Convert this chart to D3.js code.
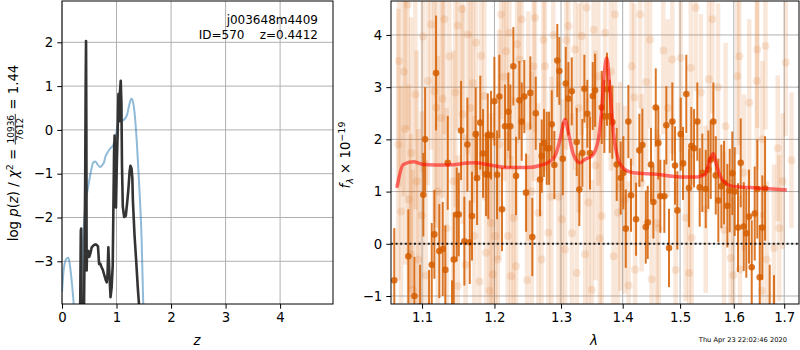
<!DOCTYPE html>
<html>
<head>
<meta charset="utf-8">
<script src="https://cdn.jsdelivr.net/npm/d3@7/dist/d3.min.js"></script>
<style>
body { margin: 0; background: #fff; }
svg { font-family: "DejaVu Sans", sans-serif; }
text { white-space: pre; }
</style>
</head>
<body>
<script>
// left panel: log p(z)
var zTicks = [0, 1, 2, 3, 4];
var pzTicks = [-3, -2, -1, 0, 1, 2];
var zBlue = [0.0, 0.03, 0.06, 0.09, 0.116, 0.14, 0.17, 0.20, 0.23, 0.27, 0.31, 0.34, 0.37, 0.40, 0.44, 0.48, 0.53, 0.575, 0.61, 0.66, 0.70, 0.74, 0.77, 0.80, 0.82, 0.88, 0.94, 0.97, 1.00, 1.03, 1.08, 1.125, 1.19, 1.23, 1.26, 1.28, 1.30, 1.33, 1.37, 1.40, 1.43, 1.46, 1.49, 1.52];
var pBlue = [-3.7, -3.2, -3.0, -2.93, -2.92, -3.05, -3.35, -3.75, -4.2, -4.6, -4.6, -4.0, -3.0, -2.2, -1.6, -1.3, -0.95, -0.74, -0.72, -0.80, -0.85, -0.80, -0.74, -0.6, -0.55, -0.43, -0.34, -0.22, -0.05, 0.2, 0.2, 0.22, 0.33, 0.55, 0.69, 0.71, 0.65, 0.4, -0.24, -0.9, -1.6, -2.5, -3.98, -5.0];
var zDark = [0.33, 0.345, 0.352, 0.36, 0.40, 0.425, 0.434, 0.441, 0.447, 0.452, 0.46, 0.48, 0.50, 0.52, 0.545, 0.575, 0.60, 0.63, 0.66, 0.68, 0.70, 0.72, 0.75, 0.77, 0.80, 0.82, 0.835, 0.85, 0.87, 0.89, 0.91, 0.93, 0.955, 0.965, 0.98, 0.99, 1.005, 1.02, 1.035, 1.05, 1.06, 1.077, 1.09, 1.10, 1.115, 1.14, 1.17, 1.20, 1.22, 1.24, 1.255, 1.275, 1.29, 1.30, 1.33, 1.36, 1.39, 1.41, 1.43];
var pDark = [-4.6, -2.3, -2.25, -4.6, -4.6, -1.2, 1.0, 2.03, 0.0, -3.21, -2.8, -2.76, -2.9, -2.82, -2.68, -2.64, -2.62, -2.62, -2.66, -3.06, -3.05, -3.12, -3.2, -3.29, -3.42, -3.48, -3.3, -2.68, -3.3, -3.82, -3.6, -3.1, -0.5, -0.13, -1.0, -1.77, -0.8, -0.1, 0.82, 0.2, 0.8, 1.12, 0.6, -0.8, -1.75, -1.99, -1.96, -1.6, -1.31, -0.95, -0.82, -0.88, -1.1, -1.61, -2.4, -2.98, -3.6, -3.95, -4.3];

// right panel: spectrum
var lamTicks = [1.1, 1.2, 1.3, 1.4, 1.5, 1.6, 1.7];
var fluxTicks = [-1, 0, 1, 2, 3, 4];
var lamBin = [1.0639, 1.0820, 1.0899, 1.0974, 1.1017, 1.1040, 1.1093, 1.1129, 1.1164, 1.1187, 1.1231, 1.1277, 1.1312, 1.1345, 1.1404, 1.1427, 1.1468, 1.1496, 1.1528, 1.1574, 1.1616, 1.1649, 1.1681, 1.1733, 1.1752, 1.1798, 1.1837, 1.1880, 1.1904, 1.1912, 1.1951, 1.1999, 1.2038, 1.2071, 1.2110, 1.2154, 1.2202, 1.2232, 1.2276, 1.2316, 1.2365, 1.2400, 1.2439, 1.2465, 1.2529, 1.2559, 1.2611, 1.2676, 1.2702, 1.2737, 1.2779, 1.2814, 1.2856, 1.2896, 1.2942, 1.2974, 1.3027, 1.3074, 1.3115, 1.3169, 1.3248, 1.3289, 1.3337, 1.3370, 1.3418, 1.3461, 1.3505, 1.3543, 1.3652, 1.3695, 1.3739, 1.3784, 1.3827, 1.3900, 1.3967, 1.4011, 1.4052, 1.4096, 1.4141, 1.4227, 1.4283, 1.4335, 1.4394, 1.4428, 1.4485, 1.4526, 1.4568, 1.4613, 1.4648, 1.4719, 1.4754, 1.4802, 1.4861, 1.4909, 1.4951, 1.5012, 1.5053, 1.5113, 1.5162, 1.5204, 1.5254, 1.5314, 1.5358, 1.5406, 1.5470, 1.5518, 1.5563, 1.5612, 1.5657, 1.5706, 1.5763, 1.5814, 1.5877, 1.5922, 1.5972, 1.6018, 1.6082, 1.6134, 1.6193, 1.6243, 1.6296, 1.6349, 1.6408, 1.6459, 1.6507, 1.6559, 1.6613, 1.6706, 1.6793];
var fluxBin = [-0.7, -0.24, -1.0, -1.2, 0.94, 2.0, -1.2, -0.4, 0.18, 3.27, -0.14, -0.1, -0.5, 1.55, -1.5, -0.3, 0.56, 0.56, 2.17, 0.05, 1.9, 0.03, 0.53, 2.1, 1.26, 2.32, 1.73, 1.33, 2.08, 1.32, 2.08, 2.73, 1.32, 2.82, 0.66, 2.25, 2.53, 2.25, 3.4, 1.3, 2.75, 2.34, 2.82, 0.98, 2.89, 0.13, 2.5, 1.23, 1.68, 1.93, 1.83, 1.83, 2.29, 1.51, 3.51, 3.31, 1.63, 3.07, 2.78, 2.92, 1.95, 1.04, 1.74, 2.97, 2.49, 1.74, 2.83, 2.94, 2.61, 2.44, 2.96, 2.44, 2.33, 1.52, 1.26, 1.36, 0.29, 2.34, 0.93, 0.47, 1.79, 1.89, 0.32, 0.41, 1.52, 0.8, 2.61, 1.93, 0.91, 0.91, 2.27, -0.08, 2.34, 1.5, 0.64, 2.1, 1.54, 2.87, 1.07, 1.87, 1.83, 2.34, 1.08, 1.36, 1.05, 1.42, 1.61, 2.34, 1.31, 0.83, 1.1, 1.17, 0.73, 1.02, 1.35, 1.0, 0.31, 1.55, 0.33, 0.2, 0.52, -0.45, 0.58, 1.05, -0.64, 0.31, 1.06, -1.3, -1.6];
var errBin = [1.0, 0.9, 0.75, 0.8, 0.8, 1.0, 0.7, 0.8, 0.85, 1.1, 0.9, 0.9, 0.85, 0.9, 0.8, 0.9, 0.9, 0.8, 0.95, 0.85, 0.9, 0.8, 0.85, 0.9, 0.9, 0.9, 0.85, 0.8, 0.8, 0.85, 0.85, 0.85, 0.85, 0.8, 0.8, 0.8, 0.75, 0.8, 0.75, 0.75, 0.75, 0.75, 0.7, 0.75, 0.7, 0.75, 0.7, 0.7, 0.7, 0.65, 0.7, 0.7, 0.65, 0.65, 0.7, 0.65, 0.7, 0.7, 0.7, 0.65, 0.65, 0.7, 0.65, 0.65, 0.65, 0.7, 0.65, 0.7, 0.7, 0.7, 0.7, 0.7, 0.7, 0.7, 0.7, 0.7, 0.75, 0.7, 0.7, 0.7, 0.7, 0.7, 0.7, 0.7, 0.7, 0.7, 0.75, 0.7, 0.7, 0.7, 0.75, 0.75, 0.75, 0.75, 0.75, 0.7, 0.7, 0.75, 0.75, 0.75, 0.75, 0.75, 0.75, 0.75, 0.75, 0.75, 0.75, 0.75, 0.75, 0.8, 0.8, 0.8, 0.8, 0.8, 0.8, 0.85, 0.85, 0.85, 0.85, 0.85, 0.9, 0.9, 0.9, 0.95, 1.0, 1.0, 1.0, 0.9, 1.0];

var lamRaw = [1.0812, 1.1299, 1.1542, 1.1482, 1.1621, 1.1009, 1.1367, 1.1738, 1.1076, 1.0912, 1.1164, 1.1277, 1.1190, 1.1551, 1.1254, 1.0856, 1.0826, 1.0726, 1.0996, 1.1714, 1.1951, 1.2013, 1.2194, 1.1880, 1.2048, 1.2316, 1.2242, 1.1976, 1.1785, 1.1482, 1.0878, 1.2096, 1.2217, 1.2331, 1.2169, 1.2365, 1.1692, 1.1856, 1.2600, 1.2726, 1.3115, 1.3328, 1.3408, 1.3706, 1.3872, 1.4296, 1.4468, 1.4152, 1.3596, 1.3221, 1.2752, 1.2499, 1.2650, 1.3013, 1.3436, 1.3652, 1.3845, 1.3248, 1.3491, 1.4210, 1.4495, 1.3063, 1.2803, 1.4039, 1.4322, 1.5285, 1.5592, 1.6459, 1.6621, 1.7033, 1.6108, 1.5012, 1.5526, 1.6068, 1.6450, 1.6869, 1.6559, 1.5844, 1.4861, 1.5195, 1.6969, 1.6198, 1.5210, 1.5940, 1.6120, 1.6793, 1.6648, 1.5162, 1.5470, 1.5814, 1.0690, 1.0760, 1.1420, 1.2850, 1.3550, 1.3960, 1.4620, 1.4780, 1.0950, 1.2550,
	1.0700, 1.0780, 1.0850, 1.0930, 1.1050, 1.1120, 1.1210, 1.1330, 1.1450, 1.1590, 1.1660, 1.1810, 1.1930, 1.2070, 1.2140, 1.2280, 1.2400, 1.2480, 1.2580, 1.2700, 1.2880, 1.2960, 1.3080, 1.3170, 1.3280, 1.3380, 1.3520, 1.3620, 1.3800, 1.3920, 1.4100, 1.4200, 1.4400, 1.4580, 1.4700, 1.4920, 1.5100, 1.5380, 1.5700, 1.5990, 1.6300, 1.6550, 1.6900, 1.7150];
var fluxRaw = [4.58, 4.3, 4.49, 4.18, 4.01, 3.97, 3.59, 3.85, 3.12, 2.86, 2.92, 2.78, 2.61, 2.48, 2.41, 1.74, 0.85, 0.62, 0.54, 0.15, 0.4, 0.15, 0.15, -0.17, -0.3, -0.43, -0.62, -0.59, -0.72, -0.81, -0.88, 4.39, 4.04, 3.82, 3.69, 3.53, 3.08, 2.83, 4.33, 3.91, 4.17, 3.98, 4.52, 4.04, 4.39, 4.39, 3.91, 3.4, 3.21, 3.72, 3.4, 2.25, 0.59, 0.47, 0.79, 0.53, -0.24, -0.56, -0.88, -0.49, -0.68, -0.11, 0.21, 0.85, 1.17, 4.52, 4.3, 3.72, 3.79, 3.47, 3.59, 3.56, 3.15, 3.21, 3.12, 1.83, 2.0, 2.25, 3.53, 3.37, 1.2, 1.36, 0.11, -0.27, -0.49, -0.08, -0.3, -0.56, 0.66, 0.27, 1.9, 3.3, 1.2, 0.9, 1.5, 1.1, 0.3, 2.6, -0.3, 1.0,
	3.5, 2.2, -0.2, 1.2, -0.6, 4.2, 1.0, 0.3, 2.9, -0.4, 2.6, 3.6, -0.9, 1.9, 3.2, 0.5, 4.3, -0.7, 3.4, -0.3, 4.0, 0.9, 3.9, 0.2, 2.6, -0.2, 4.1, 0.1, 3.3, 0.6, -0.8, 2.8, 3.1, 0.4, 3.7, -0.5, 0.5, 2.9, 3.0, -0.6, 2.7, -0.9, 0.3, 1.6];
var errRaw = [2.4, 2.2, 2.5, 2.0, 2.3, 2.6, 2.1, 2.4, 2.0, 2.2, 2.5, 1.9, 2.3, 2.1, 2.4, 2.6, 2.2, 2.4, 2.0, 2.3, 2.1, 2.5, 2.0, 2.2, 2.4, 1.9, 2.3, 2.1, 2.2, 2.5, 2.3, 2.0, 2.4, 1.9, 2.2, 2.1, 2.3, 2.0, 2.2, 2.4, 2.1, 1.9, 2.3, 2.0, 2.2, 1.8, 1.7, 1.9, 2.1, 2.3, 2.0, 2.2, 2.1, 2.3, 2.0, 1.9, 2.2, 2.0, 2.1, 1.8, 1.7, 2.2, 2.0, 1.8, 1.7, 1.6, 1.8, 1.5, 1.6, 1.4, 1.7, 1.8, 1.6, 1.5, 1.7, 1.4, 1.5, 1.6, 1.8, 1.7, 1.3, 1.5, 1.6, 1.5, 1.4, 1.6, 1.5, 1.7, 1.6, 1.5, 2.6, 2.4, 2.5, 2.3, 2.2, 2.0, 1.8, 1.7, 2.5, 2.3,
	2.4, 2.6, 2.3, 2.5, 2.2, 2.4, 2.6, 2.3, 2.2, 2.5, 2.1, 2.3, 2.4, 2.2, 2.0, 2.3, 2.1, 2.4, 2.2, 2.3, 2.0, 2.2, 2.1, 2.3, 2.0, 2.2, 2.1, 2.0, 1.9, 2.1, 2.0, 1.8, 1.7, 1.8, 1.6, 1.7, 1.6, 1.5, 1.6, 1.5, 1.6, 1.5, 1.4, 1.3];

var lamModel = [1.0671, 1.0755, 1.0885, 1.1017, 1.1332, 1.1700, 1.1937, 1.2179, 1.2475, 1.2676, 1.2829, 1.2907, 1.2985, 1.3063, 1.3115, 1.3195, 1.3300, 1.3382, 1.3491, 1.3596, 1.3652, 1.3695, 1.3735, 1.3778, 1.3845, 1.3926, 1.4039, 1.4180, 1.4586, 1.5007, 1.5307, 1.5462, 1.5550, 1.5612, 1.5675, 1.5800, 1.5991, 1.6448, 1.7053];
var fluxModel = [1.07, 1.52, 1.57, 1.52, 1.51, 1.55, 1.51, 1.46, 1.46, 1.5, 1.58, 1.68, 2.0, 2.38, 2.13, 1.71, 1.55, 1.62, 1.68, 2.0, 2.57, 3.28, 3.56, 3.08, 2.13, 1.62, 1.42, 1.36, 1.33, 1.28, 1.28, 1.33, 1.62, 1.73, 1.49, 1.2, 1.1, 1.07, 1.03];

var W = 800, H = 350;
var svg = d3.select("body").append("svg").attr("width", W).attr("height", H);
var orange = "#d55e00";

function panel(x0, x1, xs, ys, xt, yt, id) {
	var g = svg.append("g");
	g.append("clipPath").attr("id", id).append("rect")
		.attr("x", x0).attr("y", 1).attr("width", x1 - x0).attr("height", 303);
	// grid
	g.selectAll(".gx").data(xt).enter().append("line")
		.attr("x1", function(d) { return xs(d); }).attr("x2", function(d) { return xs(d); })
		.attr("y1", 1).attr("y2", 304).attr("stroke", "#b0b0b0").attr("stroke-width", 1);
	g.selectAll(".gy").data(yt).enter().append("line")
		.attr("x1", x0).attr("x2", x1)
		.attr("y1", function(d) { return ys(d); }).attr("y2", function(d) { return ys(d); })
		.attr("stroke", "#b0b0b0").attr("stroke-width", 1);
	return g.append("g").attr("clip-path", "url(#" + id + ")");
}

function axes(x0, x1, xs, ys, xt, yt, xfmt) {
	var ax = svg.append("g").attr("transform", "translate(0,304)")
		.call(d3.axisBottom(xs).tickValues(xt).tickFormat(xfmt).tickSize(4.7).tickPadding(4).tickSizeOuter(0));
	var ay = svg.append("g").attr("transform", "translate(" + x0 + ",0)")
		.call(d3.axisLeft(ys).tickValues(yt).tickFormat(d3.format("d")).tickSize(4.7).tickPadding(4).tickSizeOuter(0));
	[ax, ay].forEach(function(a) {
		a.select(".domain").remove();
		a.selectAll("text").attr("font-size", "13.3px").attr("font-family", "DejaVu Sans").attr("fill", "#000");
		a.selectAll("line").attr("stroke", "#000").attr("stroke-width", 1);
	});
	svg.append("rect").attr("x", x0).attr("y", 1).attr("width", x1 - x0).attr("height", 303)
		.attr("fill", "none").attr("stroke", "#000").attr("stroke-width", 1);
}

// ---- left panel
var xz = d3.scaleLinear().domain([0, 4.97]).range([62, 333]);
var yp = d3.scaleLinear().domain([-3.975, 2.943]).range([304, 1]);
var lp = panel(62, 333, xz, yp, zTicks, pzTicks, "clipL");

var blueLine = d3.line().x(function(d) { return xz(d[0]); }).y(function(d) { return yp(d[1]); }).curve(d3.curveMonotoneX);
lp.append("path").datum(d3.zip(zBlue, pBlue)).attr("d", blueLine)
	.attr("fill", "none").attr("stroke", "#1f77b4").attr("stroke-opacity", 0.5).attr("stroke-width", 2);
var darkLine = d3.line().x(function(d) { return xz(d[0]); }).y(function(d) { return yp(d[1]); });
lp.append("path").datum(d3.zip(zDark, pDark)).attr("d", darkLine)
	.attr("fill", "none").attr("stroke", "#333").attr("stroke-width", 2.6).attr("stroke-linejoin", "round");

axes(62, 333, xz, yp, zTicks, pzTicks, d3.format("d"));

svg.append("text").attr("x", 318).attr("y", 24).attr("text-anchor", "end").attr("font-size", "12px").text("j003648m4409");
svg.append("text").attr("x", 318).attr("y", 39).attr("text-anchor", "end").attr("font-size", "12px").text("ID=570    z=0.4412");

svg.append("text").attr("x", 197).attr("y", 345).attr("text-anchor", "middle").attr("font-size", "13.3px")
	.attr("font-style", "italic").text("z");

// left y label with fraction
var yl = svg.append("g").attr("transform", "translate(0,153) rotate(-90)");
var t1 = yl.append("text").attr("y", 18).attr("font-size", "13.3px");
t1.append("tspan").text("log ");
t1.append("tspan").attr("font-style", "italic").text("p");
t1.append("tspan").text("(");
t1.append("tspan").attr("font-style", "italic").text("z");
t1.append("tspan").text(") / ");
t1.append("tspan").attr("font-style", "italic").text("χ");
t1.append("tspan").attr("font-size", "9.5px").attr("dy", -5).text("2");
t1.append("tspan").attr("dy", 5).text(" = ");
var fr = yl.append("g");
var num = fr.append("text").attr("y", 13.5).attr("font-size", "9px").attr("text-anchor", "middle").text("10936");
var den = fr.append("text").attr("y", 22.5).attr("font-size", "9px").attr("text-anchor", "middle").text("7612");
var t2 = yl.append("text").attr("y", 18).attr("font-size", "13.3px").text(" = 1.44");
var w1 = t1.node().getComputedTextLength();
var wf = num.node().getComputedTextLength() + 2;
var w2 = t2.node().getComputedTextLength();
var s0 = -(w1 + wf + w2) / 2;
t1.attr("x", s0);
num.attr("x", s0 + w1 + wf / 2);
den.attr("x", s0 + w1 + wf / 2);
fr.append("line").attr("x1", s0 + w1).attr("x2", s0 + w1 + wf).attr("y1", 15.3).attr("y2", 15.3)
	.attr("stroke", "#000").attr("stroke-width", 0.8);
t2.attr("x", s0 + w1 + wf);

// ---- right panel
var xl = d3.scaleLog().domain([1.0597, 1.7305]).range([391, 799]);
var yf = d3.scaleLinear().domain([-1.153, 4.65]).range([304, 1]);
var rp = panel(391, 799, xl, yf, lamTicks, fluxTicks, "clipR");

var raw = d3.zip(lamRaw, fluxRaw, errRaw);
rp.selectAll(".rb").data(raw).enter().append("line")
	.attr("x1", function(d) { return xl(d[0]); }).attr("x2", function(d) { return xl(d[0]); })
	.attr("y1", function(d) { return yf(d[1] - d[2]); }).attr("y2", function(d) { return yf(d[1] + d[2]); })
	.attr("stroke", orange).attr("stroke-opacity", 0.15).attr("stroke-width", 4.5);
rp.selectAll(".rc").data(raw).enter().append("circle")
	.attr("cx", function(d) { return xl(d[0]); }).attr("cy", function(d) { return yf(d[1]); })
	.attr("r", 4).attr("fill", orange).attr("fill-opacity", 0.14);

var bin = d3.zip(lamBin, fluxBin, errBin);
rp.selectAll(".bb").data(bin).enter().append("line")
	.attr("x1", function(d) { return xl(d[0]); }).attr("x2", function(d) { return xl(d[0]); })
	.attr("y1", function(d) { return yf(d[1] - d[2]); }).attr("y2", function(d) { return yf(d[1] + d[2]); })
	.attr("stroke", orange).attr("stroke-opacity", 0.85).attr("stroke-width", 2);
rp.selectAll(".bc").data(bin).enter().append("circle")
	.attr("cx", function(d) { return xl(d[0]); }).attr("cy", function(d) { return yf(d[1]); })
	.attr("r", 3.3).attr("fill", orange).attr("fill-opacity", 0.85);

var modelLine = d3.line().x(function(d) { return xl(d[0]); }).y(function(d) { return yf(d[1]); }).curve(d3.curveMonotoneX);
rp.append("path").datum(d3.zip(lamModel, fluxModel)).attr("d", modelLine)
	.attr("fill", "none").attr("stroke", "red").attr("stroke-opacity", 0.55).attr("stroke-width", 3.5)
	.attr("stroke-linejoin", "round");

rp.append("line").attr("x1", 391).attr("x2", 799).attr("y1", yf(0)).attr("y2", yf(0))
	.attr("stroke", "#000").attr("stroke-width", 2).attr("stroke-dasharray", "2,2.6").attr("stroke-opacity", 0.85);

axes(391, 799, xl, yf, lamTicks, fluxTicks, d3.format(".1f"));

svg.append("text").attr("x", 594).attr("y", 345).attr("text-anchor", "middle").attr("font-size", "13.3px")
	.attr("font-style", "italic").text("λ");

var fl = svg.append("text").attr("transform", "translate(350,155) rotate(-90)").attr("text-anchor", "middle")
	.attr("font-size", "13.3px");
fl.append("tspan").attr("font-style", "italic").text("f");
fl.append("tspan").attr("font-style", "italic").attr("font-size", "9.5px").attr("dy", 3).text("λ");
fl.append("tspan").attr("dy", -3).text(" × 10");
fl.append("tspan").attr("font-size", "9.5px").attr("dy", -5).text("−19");

svg.append("text").attr("x", 787).attr("y", 342).attr("text-anchor", "end").attr("font-size", "6.7px")
	.text("Thu Apr 23 22:02:46 2020");
</script>
</body>
</html>
